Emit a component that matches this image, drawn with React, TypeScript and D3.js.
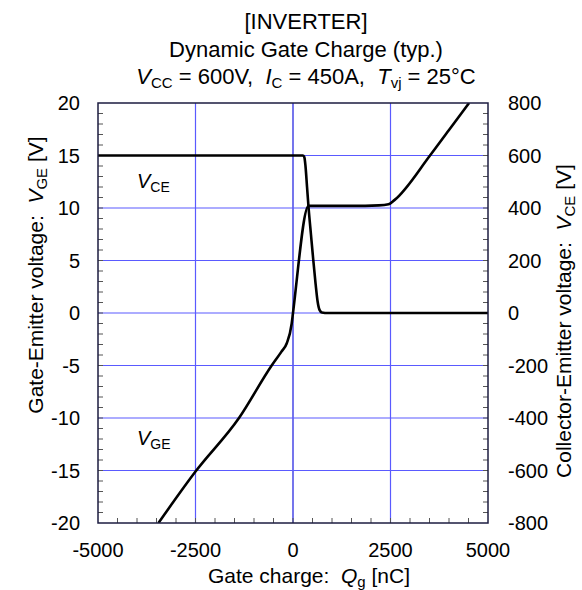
import React from "react";
import * as d3 from "d3";

const xTicks = [-5000, -2500, 0, 2500, 5000];
const yLeftTicks = [-20, -15, -10, -5, 0, 5, 10, 15, 20];
const yRightTicks = [-800, -600, -400, -200, 0, 200, 400, 600, 800];

const vceQ = [-5000, 250, 290, 320, 360, 400, 460, 521, 580, 630, 680, 740, 900, 5000];
const vceV = [600, 600, 594, 560, 480, 400, 300, 200, 110, 45, 12, 2, 0, 0];

const vgeQ = [-3450, -2500, -1385, -547, -300, -162, -33, 0, 400, 800, 1500, 2200, 2450, 2600, 3513, 4000, 4515];
const vgeV = [-20, -15.1, -10, -5, -3.7, -2.9, -1, 0, 10.2, 10.2, 10.2, 10.25, 10.35, 10.75, 15, 17.43, 20];

const W = 582, H = 590;
const L = 98, R = 488, T = 103, B = 523;
const FONT = "'Liberation Sans', Arial, sans-serif";

export default function App() {
  const x = d3.scaleLinear().domain([-5000, 5000]).range([L, R]);
  const yL = d3.scaleLinear().domain([-20, 20]).range([B, T]);
  const yR = d3.scaleLinear().domain([-800, 800]).range([B, T]);

  const vcePts = vceQ.map((q, i) => [q, vceV[i]] as [number, number]);
  const vgePts = vgeQ.map((q, i) => [q, vgeV[i]] as [number, number]);
  const lineR = d3.line<[number, number]>().x(d => x(d[0])).y(d => yR(d[1])).curve(d3.curveMonotoneX);
  const lineL = d3.line<[number, number]>().x(d => x(d[0])).y(d => yL(d[1])).curve(d3.curveMonotoneX);

  const minorX = d3.range(-4500, 5000, 500);
  const minorYL = d3.range(-19, 20, 1);
  const minorYR = d3.range(-760, 800, 40);

  const gridColor = "#5a5aff";
  const tickColor = "#555";
  const TF = 20;
  const HF = 22;

  return (
    <svg width={W} height={H} style={{ position: "absolute", left: 0, top: 0, fontFamily: FONT }}>
      <rect x={0} y={0} width={W} height={H} fill="#fff" />
      <defs>
        <clipPath id="plot">
          <rect x={L} y={T} width={R - L} height={B - T} />
        </clipPath>
      </defs>
      {xTicks.slice(1, -1).map(t => (
        <line key={"gx" + t} x1={x(t)} x2={x(t)} y1={T} y2={B} stroke={t === 0 ? "#1a1ae0" : gridColor} strokeWidth={1.2} />
      ))}
      {yLeftTicks.slice(1, -1).map(t => (
        <line key={"gy" + t} x1={L} x2={R} y1={yL(t)} y2={yL(t)} stroke={gridColor} strokeWidth={1.2} />
      ))}
      {minorX.map(t => (
        <line key={"mx" + t} x1={x(t)} x2={x(t)} y1={B} y2={B - 5} stroke={tickColor} strokeWidth={1} />
      ))}
      {minorYL.map(t => (
        <line key={"ml" + t} x1={L} x2={L + 5} y1={yL(t)} y2={yL(t)} stroke={tickColor} strokeWidth={1} />
      ))}
      {minorYR.map(t => (
        <line key={"mr" + t} x1={R} x2={R - 5} y1={yR(t)} y2={yR(t)} stroke={tickColor} strokeWidth={1} />
      ))}
      <g clipPath="url(#plot)">
        <path d={lineR(vcePts) || ""} fill="none" stroke="#000" strokeWidth={2.6} strokeLinejoin="round" />
        <path d={lineL(vgePts) || ""} fill="none" stroke="#000" strokeWidth={2.6} strokeLinejoin="round" />
      </g>
      <rect x={L} y={T} width={R - L} height={B - T} fill="none" stroke="#1c1c40" strokeWidth={1.5} />
      {xTicks.map(t => (
        <text key={"tx" + t} x={x(t)} y={557} textAnchor="middle" fontSize={TF}>{t}</text>
      ))}
      {yLeftTicks.map(t => (
        <text key={"tl" + t} x={80} y={yL(t) + 7} textAnchor="end" fontSize={TF}>{t}</text>
      ))}
      {yRightTicks.map(t => (
        <text key={"tr" + t} x={508} y={yR(t) + 7} textAnchor="start" fontSize={TF}>{t}</text>
      ))}
      <text x={137} y={188} fontSize={20}>
        <tspan fontStyle="italic">V</tspan>
        <tspan fontSize={14} dy={4}>CE</tspan>
      </text>
      <text x={137} y={445} fontSize={20}>
        <tspan fontStyle="italic">V</tspan>
        <tspan fontSize={14} dy={4}>GE</tspan>
      </text>
      <text x={306} y={29} textAnchor="middle" fontSize={HF}>[INVERTER]</text>
      <text x={306} y={57} textAnchor="middle" fontSize={HF}>Dynamic Gate Charge (typ.)</text>
      <text x={306} y={84} textAnchor="middle" fontSize={HF} xmlSpace="preserve">
        <tspan fontStyle="italic">V</tspan>
        <tspan fontSize={15} dy={4}>CC</tspan>
        <tspan dy={-4}>{" = 600V,  "}</tspan>
        <tspan fontStyle="italic">I</tspan>
        <tspan fontSize={15} dy={4}>C</tspan>
        <tspan dy={-4}>{" = 450A,  "}</tspan>
        <tspan fontStyle="italic">T</tspan>
        <tspan fontSize={15} dy={4}>vj</tspan>
        <tspan dy={-4}>{" = 25°C"}</tspan>
      </text>
      <text x={309} y={583} textAnchor="middle" fontSize={21} xmlSpace="preserve">
        {"Gate charge:  "}<tspan fontStyle="italic">Q</tspan>
        <tspan fontSize={15} dy={4}>g</tspan>
        <tspan dy={-4}>{" [nC]"}</tspan>
      </text>
      <text transform={`translate(43, 275) rotate(-90)`} textAnchor="middle" fontSize={21} xmlSpace="preserve">
        {"Gate-Emitter voltage:  "}<tspan fontStyle="italic">V</tspan>
        <tspan fontSize={15} dy={4}>GE</tspan>
        <tspan dy={-4}>{" [V]"}</tspan>
      </text>
      <text transform={`translate(571, 321) rotate(-90)`} textAnchor="middle" fontSize={21} xmlSpace="preserve">
        {"Collector-Emitter voltage:  "}<tspan fontStyle="italic">V</tspan>
        <tspan fontSize={15} dy={4}>CE</tspan>
        <tspan dy={-4}>{" [V]"}</tspan>
      </text>
    </svg>
  );
}
